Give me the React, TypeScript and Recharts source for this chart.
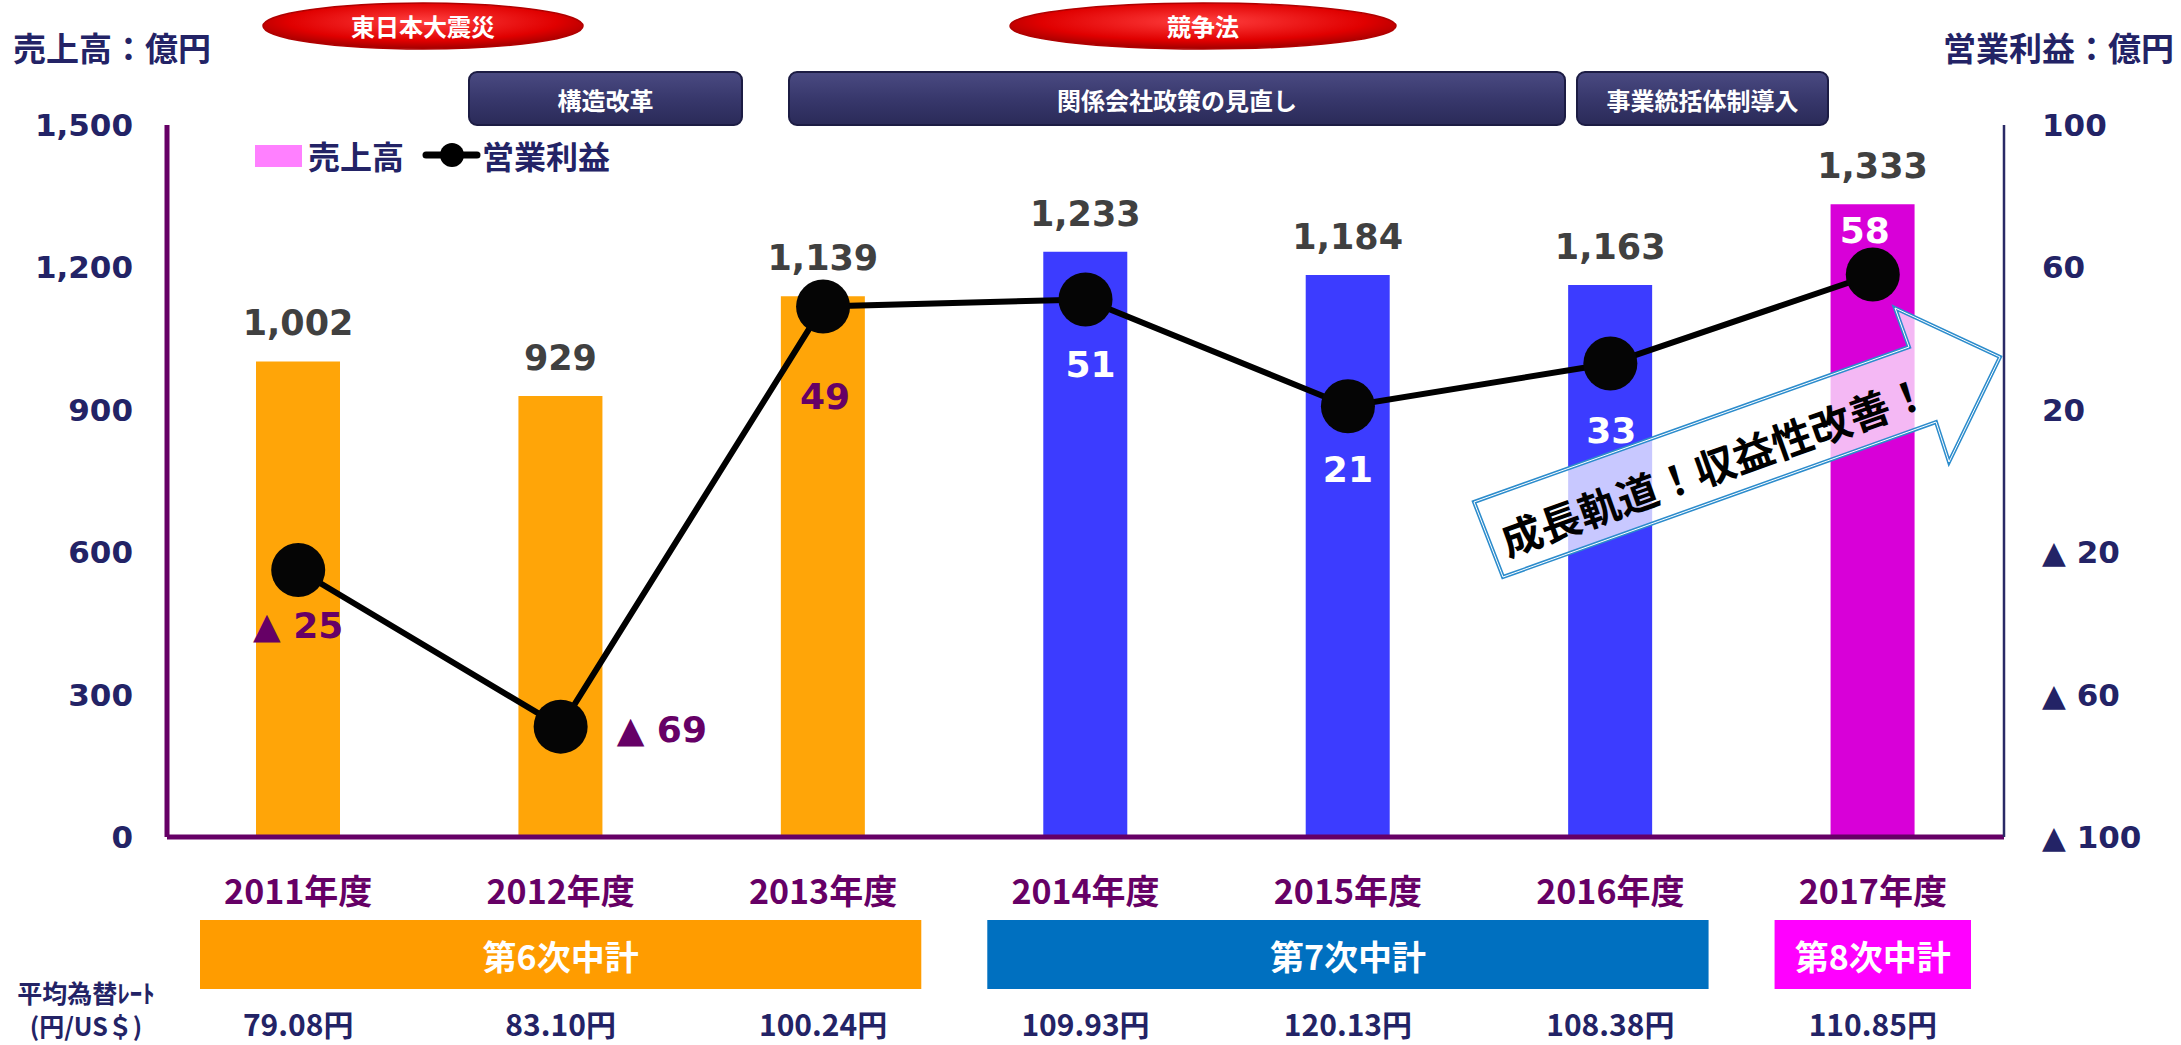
import React from 'react';
import { ComposedChart, Bar, Line, XAxis, YAxis, Cell, LabelList } from 'recharts';

// fiscal years and values
const years = ['2011年度', '2012年度', '2013年度', '2014年度', '2015年度', '2016年度', '2017年度'];
const sales = [1002, 929, 1139, 1233, 1184, 1163, 1333];
const profit = [-25, -69, 49, 51, 21, 33, 58];
const fxRates = ['79.08円', '83.10円', '100.24円', '109.93円', '120.13円', '108.38円', '110.85円'];
const salesTicks = [0, 300, 600, 900, 1200, 1500];
const profitTicks = [-100, -60, -20, 20, 60, 100];
const plans = [
    { name: '第6次中計', first: 0, last: 2 },
    { name: '第7次中計', first: 3, last: 5 },
    { name: '第8次中計', first: 6, last: 6 },
];
const events = ['東日本大震災', '競争法'];
const initiatives = ['構造改革', '関係会社政策の見直し', '事業統括体制導入'];

// styling
const W = 2181;
const H = 1045;
const PLOT_LEFT = 167;
const PLOT_RIGHT = 2004;
const BAND = (PLOT_RIGHT - PLOT_LEFT) / years.length;
const NAVY = '#232366';
const PURPLE = '#660066';
const JP = '"Noto Sans CJK JP", sans-serif';
const NUM = '"DejaVu Sans", sans-serif';
const barColors = ['#FFA508', '#FFA508', '#FFA508', '#3C3CFF', '#3C3CFF', '#3C3CFF', '#D800D8'];
const planColors = ['#FF9C00', '#0070C0', '#FF00FF'];
const eventShapes = [{ cx: 423, rx: 160 }, { cx: 1203, rx: 193 }];
const initiativeBoxes = [{ x: 469, w: 273 }, { x: 789, w: 776 }, { x: 1577, w: 251 }];
// where each profit label sits relative to its dot
const profitLabelPos = [
    { dx: 0, dy: 68, anchor: 'middle', color: PURPLE },
    { dx: 56, dy: 15, anchor: 'start', color: PURPLE },
    { dx: 2, dy: 102, anchor: 'middle', color: PURPLE },
    { dx: 5, dy: 78, anchor: 'middle', color: '#FFFFFF' },
    { dx: 0, dy: 76, anchor: 'middle', color: '#FFFFFF' },
    { dx: 1, dy: 79, anchor: 'middle', color: '#FFFFFF' },
    { dx: -8, dy: -32, anchor: 'middle', color: '#FFFFFF' },
];

const data = years.map((year, i) => ({ year, sales: sales[i], profit: profit[i], fx: fxRates[i] }));

const fmtProfit = (v: number) => (v < 0 ? `▲ ${-v}` : `${v}`);

const YearTick = (props: any) => {
    const { x, y, payload, index } = props;
    return (
        <g>
            <text x={x} y={y + 52} textAnchor="middle" dominantBaseline="central" fill={PURPLE}
                fontSize={34} fontWeight="bold" fontFamily={JP}>{payload.value}</text>
            <text x={x} y={y + 186} textAnchor="middle" dominantBaseline="central" fill={NAVY}
                fontSize={30} fontWeight="bold" fontFamily={JP}>{data[index]?.fx}</text>
        </g>
    );
};

const ProfitDot = (props: any) => {
    const { cx, cy, index, value } = props;
    const p = profitLabelPos[index];
    return (
        <g key={`dot-${index}`}>
            <circle cx={cx} cy={cy} r={27} fill="#050505" />
            <text x={cx + p.dx} y={cy + p.dy} textAnchor={p.anchor} fill={p.color}
                fontSize={36} fontWeight="bold" fontFamily={NUM}>{fmtProfit(value)}</text>
        </g>
    );
};

function Overlay() {
    const arrow = '1474,502 1909,347 1895,308 2000,357 1949,462 1936,422 1503,577';
    return (
        <svg width={W} height={H} style={{ position: 'absolute', left: 0, top: 0, pointerEvents: 'none' }}>
            <defs>
                <radialGradient id="redEllipse" cx="50%" cy="40%" r="60%">
                    <stop offset="0%" stopColor="#FF4040" />
                    <stop offset="70%" stopColor="#E00000" />
                    <stop offset="100%" stopColor="#A00000" />
                </radialGradient>
                <linearGradient id="navyBox" x1="0" y1="0" x2="0" y2="1">
                    <stop offset="0%" stopColor="#4A4A82" />
                    <stop offset="50%" stopColor="#38386C" />
                    <stop offset="100%" stopColor="#2A2A58" />
                </linearGradient>
            </defs>

            <text x={13} y={47} dominantBaseline="central" fill={NAVY} fontSize={33} fontWeight="bold" fontFamily={JP}>売上高：億円</text>
            <text x={2174} y={47} textAnchor="end" dominantBaseline="central" fill={NAVY} fontSize={33} fontWeight="bold" fontFamily={JP}>営業利益：億円</text>

            {events.map((ev, i) => (
                <g key={ev}>
                    <ellipse cx={eventShapes[i].cx} cy={26} rx={eventShapes[i].rx} ry={23} fill="url(#redEllipse)" stroke="#B00000" strokeWidth={1.5} />
                    <text x={eventShapes[i].cx} y={25} textAnchor="middle" dominantBaseline="central" fill="#FFFFFF"
                        fontSize={24} fontWeight="bold" fontFamily={JP}>{ev}</text>
                </g>
            ))}

            {initiatives.map((name, i) => (
                <g key={name}>
                    <rect x={initiativeBoxes[i].x} y={72} width={initiativeBoxes[i].w} height={53} rx={8}
                        fill="url(#navyBox)" stroke="#1C1C44" strokeWidth={2} />
                    <text x={initiativeBoxes[i].x + initiativeBoxes[i].w / 2} y={99} textAnchor="middle" dominantBaseline="central"
                        fill="#FFFFFF" fontSize={24} fontWeight="bold" fontFamily={JP}>{name}</text>
                </g>
            ))}

            {/* legend */}
            <rect x={255} y={145} width={47} height={22} fill="#FF80FF" />
            <text x={308} y={155} dominantBaseline="central" fill={NAVY} fontSize={32} fontWeight="bold" fontFamily={JP}>売上高</text>
            <line x1={426} y1={155} x2={477} y2={155} stroke="#000" strokeWidth={7} strokeLinecap="round" />
            <circle cx={452} cy={155} r={12} fill="#000" />
            <text x={482} y={155} dominantBaseline="central" fill={NAVY} fontSize={32} fontWeight="bold" fontFamily={JP}>営業利益</text>

            {/* growth arrow */}
            <polygon points={arrow} fill="rgba(255,255,255,0.72)" stroke="#2C8CCC" strokeWidth={4} strokeLinejoin="miter" />
            <polygon points={arrow} fill="none" stroke="#FFFFFF" strokeWidth={1} />
            <text x={1714} y={464} textAnchor="middle" dominantBaseline="central" transform="rotate(-19.7 1714 464)"
                fill="#000" fontSize={41} fontWeight="bold" fontFamily={JP}>成長軌道！収益性改善！</text>

            {/* mid-term plan bands */}
            {plans.map((p, i) => {
                const x0 = PLOT_LEFT + p.first * BAND + 33;
                const x1 = PLOT_LEFT + (p.last + 1) * BAND - 33;
                return (
                    <g key={p.name}>
                        <rect x={x0} y={920} width={x1 - x0} height={69} fill={planColors[i]} />
                        <text x={(x0 + x1) / 2} y={955} textAnchor="middle" dominantBaseline="central" fill="#FFFFFF"
                            fontSize={34} fontWeight="bold" fontFamily={JP}>{p.name}</text>
                    </g>
                );
            })}

            <text x={86} y={992} textAnchor="middle" dominantBaseline="central" fill={NAVY} fontSize={25} fontWeight="bold" fontFamily={JP}>平均為替ﾚｰﾄ</text>
            <text x={86} y={1025} textAnchor="middle" dominantBaseline="central" fill={NAVY} fontSize={25} fontWeight="bold" fontFamily={JP}>(円/US＄)</text>
        </svg>
    );
}

export default function App() {
    return (
        <div style={{ position: 'absolute', left: 0, top: 0, width: W, height: H, background: '#FFFFFF' }}>
            <ComposedChart width={W} height={H} data={data} margin={{ top: 125, right: 27, bottom: 0, left: 17 }}>
                <XAxis dataKey="year" height={208} tickLine={false} tickSize={0} tickMargin={0}
                    axisLine={{ stroke: PURPLE, strokeWidth: 5 }} tick={<YearTick />} interval={0} />
                <YAxis yAxisId="left" width={150} domain={[0, 1500]} ticks={salesTicks} tickLine={false}
                    tickSize={0} tickMargin={34} axisLine={{ stroke: PURPLE, strokeWidth: 5 }}
                    tickFormatter={(v: number) => v.toLocaleString('en-US')}
                    tick={{ fill: NAVY, fontSize: 31, fontWeight: 'bold', fontFamily: NUM }} />
                <YAxis yAxisId="right" orientation="right" width={150} domain={[-100, 100]} ticks={profitTicks}
                    tickLine={false} tickSize={0} tickMargin={38} axisLine={{ stroke: '#2A2A66', strokeWidth: 2.5 }}
                    tickFormatter={fmtProfit}
                    tick={{ fill: NAVY, fontSize: 31, fontWeight: 'bold', fontFamily: NUM, textAnchor: 'start' }} />
                <Bar yAxisId="left" dataKey="sales" name="売上高" fill="#FF80FF" barSize={84} isAnimationActive={false}>
                    {data.map((d, i) => (
                        <Cell key={d.year} fill={barColors[i]} />
                    ))}
                    <LabelList dataKey="sales" position="top" offset={26}
                        formatter={(v: any) => Number(v).toLocaleString('en-US')}
                        fill="#404040" fontSize={35} fontWeight="bold" fontFamily={NUM} />
                </Bar>
                <Line yAxisId="right" dataKey="profit" name="営業利益" stroke="#000000" strokeWidth={6}
                    dot={<ProfitDot />} activeDot={false} isAnimationActive={false} />
            </ComposedChart>
            <Overlay />
        </div>
    );
}
